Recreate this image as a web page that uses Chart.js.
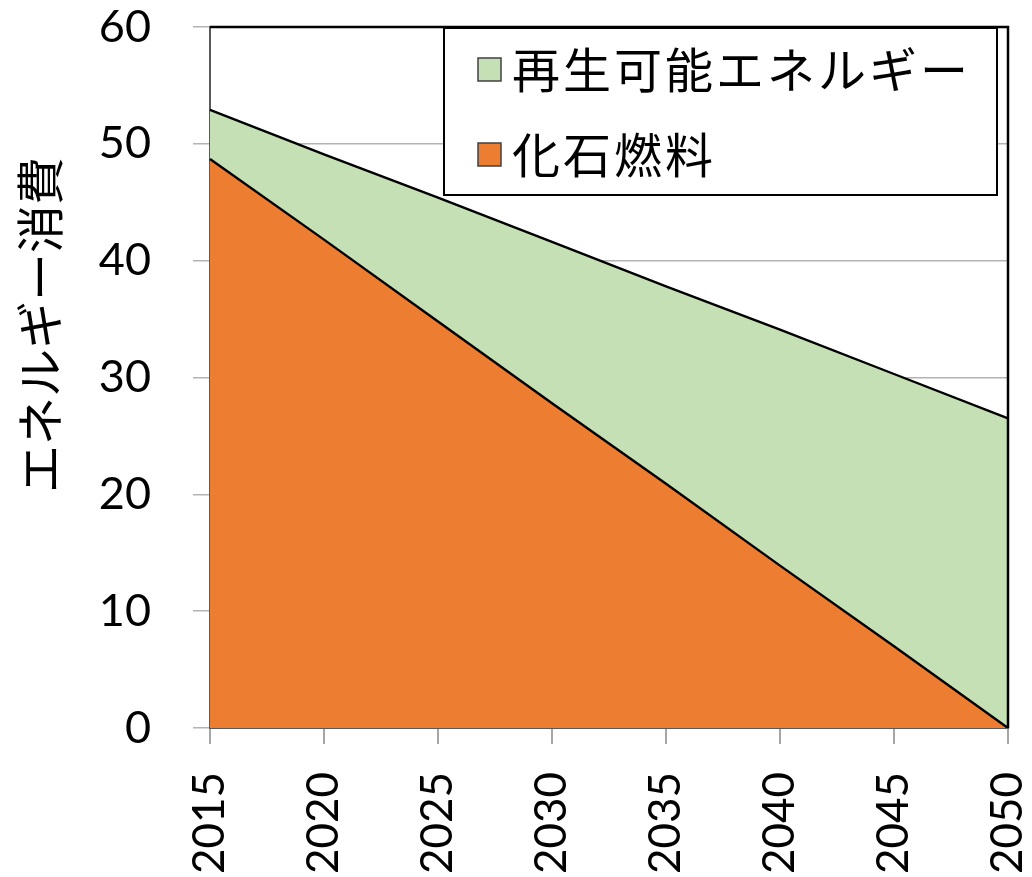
<!DOCTYPE html>
<html>
<head>
<meta charset="utf-8">
<script src="https://cdn.jsdelivr.net/npm/chart.js@4.4.1/dist/chart.umd.min.js"></script>
<style>
  html, body { margin: 0; padding: 0; background: #fff; }
  #wrap { width: 1032px; height: 877px; }
</style>
</head>
<body>
<div id="wrap"><canvas id="chart" width="1032" height="877"></canvas></div>
<script>
// --- Data ---
const YEARS = ['2015', '2020', '2025', '2030', '2035', '2040', '2045', '2050'];
const FOSSIL = [48.7, 41.8, 34.8, 27.8, 20.9, 13.9, 7.0, 0];
const RENEWABLE = [4.2, 7.3, 10.6, 13.8, 16.9, 20.2, 23.3, 26.5];
const Y_TICKS = [0, 10, 20, 30, 40, 50, 60];
const Y_TITLE = 'エネルギー消費';

const NUM_FONT = 'Lato';
const JP_FONT = '"Noto Sans CJK JP"';

// Black top/right frame of the plot area
const frame = {
  id: 'frame',
  afterDatasetsDraw(chart) {
    const { ctx, chartArea: a } = chart;
    ctx.save();
    ctx.strokeStyle = '#000';
    ctx.lineWidth = 2.5;
    ctx.beginPath();
    ctx.moveTo(a.left, a.top);
    ctx.lineTo(a.right, a.top);
    ctx.lineTo(a.right, a.bottom);
    ctx.stroke();
    ctx.restore();
  },
};

// Legend box inside the plot (listed top series first)
const boxLegend = {
  id: 'boxLegend',
  afterDraw(chart) {
    const ctx = chart.ctx;
    const items = chart.data.datasets.slice().reverse();
    ctx.save();
    ctx.fillStyle = '#fff';
    ctx.fillRect(444, 28, 553, 167);
    ctx.strokeStyle = '#000';
    ctx.lineWidth = 2;
    ctx.strokeRect(444, 28, 553, 167);
    ctx.font = '48px ' + JP_FONT;
    ctx.textBaseline = 'middle';
    ctx.letterSpacing = '3px';
    items.forEach((ds, i) => {
      const cy = 70 + i * 85;
      ctx.fillStyle = ds.backgroundColor;
      ctx.fillRect(478, cy - 12, 23, 23);
      ctx.strokeStyle = '#404040';
      ctx.lineWidth = 1.5;
      ctx.strokeRect(478, cy - 12, 23, 23);
      ctx.fillStyle = '#000';
      ctx.fillText(ds.label, 512, cy);
    });
    ctx.restore();
  },
};

// Y axis title, rotated
const yTitle = {
  id: 'yTitle',
  afterDraw(chart) {
    const ctx = chart.ctx;
    ctx.save();
    ctx.translate(40, 325);
    ctx.rotate(-Math.PI / 2);
    ctx.font = '48px ' + JP_FONT;
    ctx.fillStyle = '#000';
    ctx.textAlign = 'center';
    ctx.textBaseline = 'middle';
    ctx.fillText(Y_TITLE, 0, 0);
    ctx.restore();
  },
};

function noPad(s) {
  s.paddingTop = 0;
  s.paddingBottom = 0;
  s.paddingLeft = 0;
  s.paddingRight = 0;
}

new Chart(document.getElementById('chart').getContext('2d'), {
  type: 'line',
  data: {
    labels: YEARS,
    datasets: [
      {
        label: '化石燃料',
        data: FOSSIL,
        backgroundColor: '#ED7D31',
        borderColor: '#000',
        borderWidth: 2.4,
        fill: 'origin',
        pointRadius: 0,
        tension: 0,
      },
      {
        label: '再生可能エネルギー',
        data: RENEWABLE,
        backgroundColor: '#C5E0B4',
        borderColor: '#000',
        borderWidth: 2.4,
        fill: '-1',
        pointRadius: 0,
        tension: 0,
      },
    ],
  },
  options: {
    responsive: false,
    devicePixelRatio: 1,
    animation: false,
    layout: { padding: { top: 27, right: 24, left: 0, bottom: 0 } },
    plugins: {
      legend: { display: false },
      tooltip: { enabled: false },
    },
    scales: {
      x: {
        offset: false,
        grid: { drawOnChartArea: false, drawTicks: true, tickLength: 16, color: '#A6A6A6', lineWidth: 2 },
        border: { color: '#595959', width: 2 },
        ticks: {
          color: '#000',
          font: { family: NUM_FONT, size: 44 },
          minRotation: 90,
          maxRotation: 90,
          padding: 28,
          autoSkip: false,
        },
        afterFit: (s) => { s.height = 149; noPad(s); },
      },
      y: {
        stacked: true,
        min: 0,
        max: 60,
        afterBuildTicks: (s) => { s.ticks = Y_TICKS.map((v) => ({ value: v })); },
        grid: { color: '#B3B3B3', lineWidth: 1.5, tickLength: 17 },
        border: { color: '#595959', width: 2 },
        ticks: {
          color: '#000',
          font: { family: NUM_FONT, size: 45 },
          padding: 42,
        },
        afterFit: (s) => { s.width = 210; noPad(s); },
      },
    },
  },
  plugins: [frame, boxLegend, yTitle],
});
</script>
</body>
</html>
